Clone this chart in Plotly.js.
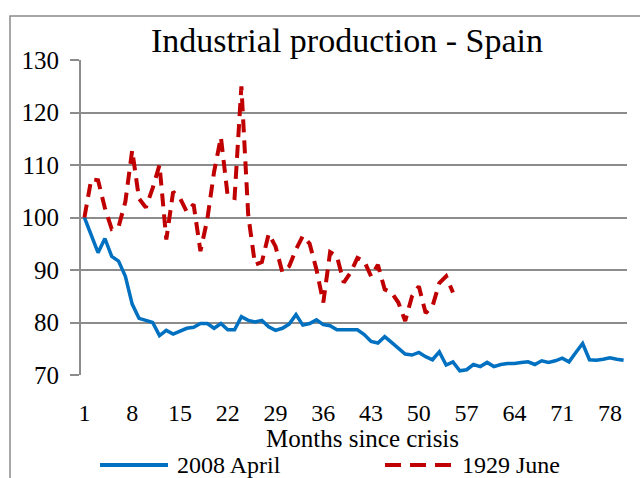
<!DOCTYPE html>
<html>
<head>
<meta charset="utf-8">
<script src="https://cdn.plot.ly/plotly-3.0.1.min.js"></script>
<style>
html,body{margin:0;padding:0;background:#fff;}
#chart{width:640px;height:478px;}
</style>
</head>
<body>
<div id="chart"></div>
<script>
// Months since crisis (category index)
var months2008 = [1,2,3,4,5,6,7,8,9,10,11,12,13,14,15,16,17,18,19,20,21,22,23,24,25,26,27,28,29,30,31,32,33,34,35,36,37,38,39,40,41,42,43,44,45,46,47,48,49,50,51,52,53,54,55,56,57,58,59,60,61,62,63,64,65,66,67,68,69,70,71,72,73,74,75,76,77,78,79,80];
var months1929 = [1,2,3,4,5,6,7,8,9,10,11,12,13,14,15,16,17,18,19,20,21,22,23,24,25,26,27,28,29,30,31,32,33,34,35,36,37,38,39,40,41,42,43,44,45,46,47,48,49,50,51,52,53,54,55];

// 2008 April series (index, crisis month = 100)
var april2008 = [100,96.6,93.3,96.0,92.6,91.7,88.8,83.5,80.8,80.4,80.0,77.5,78.5,77.8,78.4,78.9,79.1,79.8,79.8,78.9,
  79.8,78.6,78.6,81.1,80.4,80.1,80.4,79.2,78.5,78.9,79.7,81.5,79.5,79.8,80.5,79.6,79.4,78.6,78.6,78.6,
  78.6,77.7,76.4,76.1,77.3,76.2,75.1,74.0,73.8,74.3,73.5,72.9,74.4,71.9,72.5,70.8,71.0,72.0,71.6,72.4,
  71.6,72.0,72.2,72.2,72.4,72.5,72.0,72.7,72.4,72.7,73.2,72.5,74.3,76.0,72.9,72.8,73.0,73.3,73.0,72.8];

// 1929 June series
var june1929 = [100,107.3,107.1,101.8,97.8,98.2,103.0,112.8,103.6,101.9,105.6,110.0,95.8,104.9,103.7,101.1,102.5,93.6,99.6,108.7,
  115.3,104.0,103.7,125.0,100.5,91.0,91.5,96.9,94.5,89.6,90.7,93.9,96.5,95.0,90.1,83.8,93.4,92.6,87.6,89.5,
  92.3,91.7,88.8,91.0,86.3,85.7,83.8,80.3,85.0,86.9,81.8,83.1,87.5,88.8,85.7];

var xTicks = [1,8,15,22,29,36,43,50,57,64,71,78];
var yTicks = [70,80,90,100,110,120,130];
var seriesNames = ['2008 April','1929 June'];
var xTitle = 'Months since crisis';

var W = 640, H = 478;
var M = {l:81, r:13, t:60, b:103};
var pw = W - M.l - M.r, ph = H - M.t - M.b;
function px(x){ return (x - M.l) / pw; }
function py(y){ return (H - M.b - y) / ph; }

var FONT = 'Liberation Serif, Times New Roman, serif';
var BLUE = '#0070C0', RED = '#C00000', GRID = '#8c8c8c';

var traces = [
  {x: months2008, y: april2008, type:'scatter', mode:'lines', name: seriesNames[0],
   line:{color:BLUE, width:3.5}, showlegend:false, hoverinfo:'x+y'},
  {x: months1929, y: june1929, type:'scatter', mode:'lines', name: seriesNames[1],
   line:{color:RED, width:4, dash:'13px,8px'}, showlegend:false, hoverinfo:'x+y'}
];

var layout = {
  width: W, height: H,
  margin: M,
  paper_bgcolor:'#fff', plot_bgcolor:'#fff',
  font:{family:FONT, color:'#000'},
  title:{text:'Industrial production - Spain', font:{family:FONT, size:34, color:'#000'},
         x:347/W, xref:'container', xanchor:'center', y:1-40/H, yref:'container', yanchor:'middle'},
  xaxis:{
    range:[0.5, 80.5], tickmode:'array', tickvals:xTicks, ticktext:xTicks.map(String),
    showgrid:false, zeroline:false, showline:false, ticks:'', ticklabelstandoff:21,
    tickfont:{family:FONT, size:24, color:'#000'},
    fixedrange:true
  },
  yaxis:{
    range:[70,130], tickmode:'array', tickvals:yTicks,
    showgrid:true, gridcolor:GRID, gridwidth:2, zeroline:false,
    showline:true, linecolor:GRID, linewidth:2,
    ticks:'outside', ticklen:9, tickcolor:GRID, tickwidth:2, ticklabelstandoff:6,
    tickfont:{family:FONT, size:25, color:'#000'},
    fixedrange:true
  },
  shapes:[
    // chart border
    {type:'rect', xref:'paper', yref:'paper', x0:px(10), x1:px(720), y0:py(16), y1:py(560),
     line:{color:'#8a8a8a', width:1.5}, fillcolor:'rgba(0,0,0,0)', layer:'below'},
    // legend keys
    {type:'line', xref:'paper', yref:'paper', x0:px(100), x1:px(168), y0:py(465), y1:py(465),
     line:{color:BLUE, width:4}},
    {type:'line', xref:'paper', yref:'paper', x0:px(385), x1:px(453), y0:py(465), y1:py(465),
     line:{color:RED, width:4, dash:'16px,9px'}}
  ],
  annotations:[
    {xref:'paper', yref:'paper', x:px(362), y:py(438), xanchor:'center', yanchor:'middle',
     text:xTitle, showarrow:false, font:{family:FONT, size:25, color:'#000'}},
    {xref:'paper', yref:'paper', x:px(175), y:py(465), xanchor:'left', yanchor:'middle',
     text:seriesNames[0], showarrow:false, font:{family:FONT, size:24, color:'#000'}},
    {xref:'paper', yref:'paper', x:px(460), y:py(465), xanchor:'left', yanchor:'middle',
     text:seriesNames[1], showarrow:false, font:{family:FONT, size:24, color:'#000'}}
  ]
};

Plotly.newPlot('chart', traces, layout, {displayModeBar:false, staticPlot:true});
</script>
</body>
</html>
